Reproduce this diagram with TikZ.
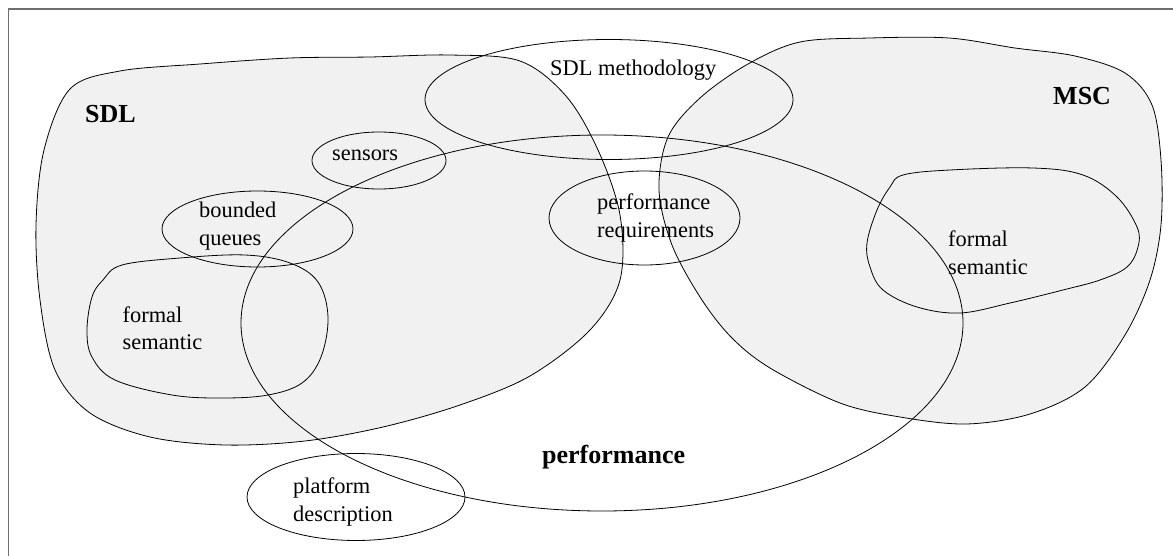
\documentclass[tikz,border=0pt]{standalone}
\usepackage{fontspec}
\setmainfont{Liberation Serif}
\definecolor{blobgray}{gray}{0.945}
\definecolor{framegray}{gray}{0.43}
\newcommand{\twolines}[2]{\begin{tabular}[t]{@{}l@{}}#1\\#2\end{tabular}}
\begin{document}
\begin{tikzpicture}[x=1pt,y=-1pt,
  blob/.style={draw=black, line width=0.8pt, fill=blobgray},
  outline/.style={draw=black, line width=0.8pt},
  lbl/.style={inner sep=0pt, anchor=base west, font={\fontsize{22.4}{28}\selectfont}},
  ttl/.style={inner sep=0pt, anchor=base west, font={\bfseries\fontsize{26}{31}\selectfont}},
  frame/.style={draw=framegray, line width=1.6pt, line join=miter}]
\useasboundingbox (0,0) rectangle (1173,556);
% frame (left and top only)
\draw[frame] (8.5,556) -- (8.5,9) -- (1173,9);
% SDL region
\draw[blob] plot[smooth cycle, tension=0.55] coordinates {
  (120,71) (200,64) (290,58) (370,57) (450,55) (520,61)
  (566,96) (598,150) (620,215) (620,280) (590,330)
  (530,376) (460,405) (383,427) (305,441) (225,445) (150,437)
  (90,413) (55,370) (40,300) (36,225) (44,150) (70,89)};
% MSC region
\draw[blob] plot[smooth cycle, tension=0.55] coordinates {
  (800,42) (870,38) (949,38) (1015,48) (1075,56)
  (1125,73) (1152,105) (1161,160)
  (1161,225) (1150,280) (1125,335) (1085,387)
  (1030,414) (966,424) (900,417) (840,403) (770,368)
  (731,337) (700,297) (672,245) (659,190)
  (668,137) (700,98) (748,64)};
% formal semantic regions
\draw[outline] plot[smooth cycle, tension=0.6] coordinates {
  (122,265) (180,258) (245,255) (290,263) (318,282) (328,317) (321,357)
  (302,383) (268,395) (222,398) (172,395) (115,380) (92,357) (87,330)
  (92,297) (103,280)};
\draw[outline] plot[smooth cycle, tension=0.6] coordinates {
  (903,175) (950,170) (1033,168) (1083,175) (1117,197) (1137,227) (1138,247)
  (1127,267) (1100,280) (1063,290) (1010,303) (960,313) (917,307) (883,290)
  (870,267) (867,243) (877,210) (890,187)};
% ellipses
\draw[outline] (609,99.5) ellipse (184pt and 60pt);
\draw[outline] (379,160.5) ellipse (67pt and 28.5pt);
\draw[outline] (257.5,229) ellipse (95.5pt and 38pt);
\draw[outline] (644.5,218) ellipse (95.5pt and 47pt);
\draw[outline] (356,497) ellipse (109pt and 43.5pt);
\draw[outline] (602,323) ellipse (361pt and 188pt);
% labels
\node[ttl] (sdl) at (85,123) {SDL};
\node[ttl] (msc) at (1053,105) {MSC};
\node[ttl] (perf) at (542,463) {performance};
\node[lbl] (meth) at (550,76) {SDL methodology};
\node[lbl] (sens) at (332,161) {sensors};
\node[lbl] (bq) at (199,218) {\twolines{bounded}{queues}};
\node[lbl] (preq) at (597,210) {\twolines{performance}{requirements}};
\node[lbl] (fsl) at (122.5,322) {\twolines{formal}{semantic}};
\node[lbl] (fsr) at (948,247) {\twolines{formal}{semantic}};
\node[lbl] (plat) at (293,493) {\twolines{platform}{description}};
\end{tikzpicture}
\end{document}
